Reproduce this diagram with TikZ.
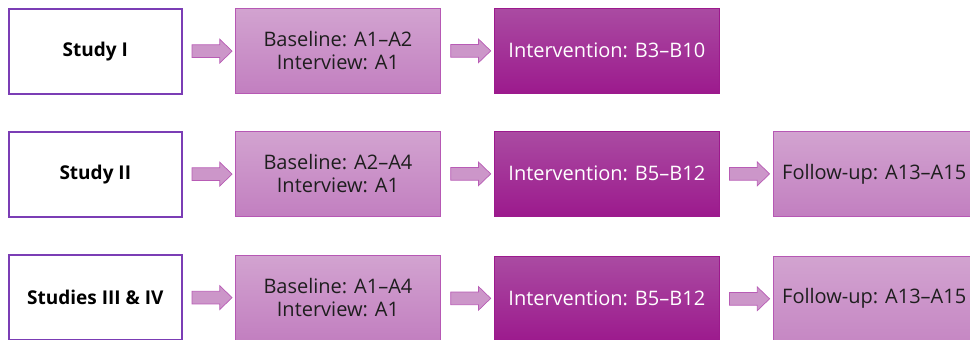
\documentclass[tikz,border=0pt]{standalone}
\usepackage{fontspec}
\setmainfont{Open Sans}
\usetikzlibrary{shapes.arrows,calc}
\definecolor{studyborder}{HTML}{7B3DB5}
\definecolor{basetop}{HTML}{D2A3D0}
\definecolor{basebot}{HTML}{C27FC0}
\definecolor{baseborder}{HTML}{B658B4}
\definecolor{intop}{HTML}{AA4BA2}
\definecolor{inbot}{HTML}{9C1A8D}
\definecolor{arrowfill}{HTML}{CC96C9}
\definecolor{arrowborder}{HTML}{B85CB5}
\definecolor{txt}{HTML}{1E1E1E}
\tikzset{
  box/.style={anchor=north west, minimum height=85pt, inner sep=0pt, align=center},
  studybox/.style={box, draw=studyborder, line width=1.6pt, fill=white, minimum width=173pt, font=\fontsize{19}{22}\selectfont\bfseries, text=black},
  basebox/.style={box, draw=baseborder, line width=0.9pt, top color=basetop, bottom color=basebot, minimum width=205pt, font=\fontsize{20}{23}\selectfont, text=txt},
  intbox/.style={box, draw=inbot, line width=0.6pt, top color=intop, bottom color=inbot, minimum width=225pt, font=\fontsize{20}{23}\selectfont, text=white},
  fubox/.style={box, draw=baseborder, line width=0.9pt, top color=basetop, bottom color=basebot, minimum width=225pt, font=\fontsize{20}{23}\selectfont, text=txt},
  futext/.style={anchor=west, font=\fontsize{20}{23}\selectfont, text=txt, inner sep=0pt},
  blockarrow/.style={single arrow, draw=arrowborder, line width=0.7pt, fill=arrowfill, minimum height=40pt, minimum width=23pt, inner sep=6pt, single arrow head extend=5.5pt, single arrow tip angle=88, single arrow head indent=0pt},
}
\begin{document}
\begin{tikzpicture}[x=1pt,y=-1pt]
\useasboundingbox (0,0) rectangle (970,340);
\begin{scope}
\clip (0,0) rectangle (970,340);
% Row 1
\node[studybox] (s1) at (8,8) {Study I};
\node[basebox] (b1) at (235,8) {Baseline: A1–A2\\Interview: A1};
\node[intbox] (i1) at (494,8) {Intervention: B3–B10};
% Row 2
\node[studybox] (s2) at (8,131) {Study II};
\node[basebox] (b2) at (235,131) {Baseline: A2–A4\\Interview: A1};
\node[intbox] (i2) at (494,131) {Intervention: B5–B12};
\node[fubox] (f2) at (773,131) {};
\node[futext] (f2t) at ($(f2.west)+(9,0)$) {Follow-up: A13–A15};
% Row 3
\node[studybox] (s3) at (8,254) {Studies III \& IV};
\node[basebox] (b3) at (235,255) {Baseline: A1–A4\\Interview: A1};
\node[intbox] (i3) at (494,256) {Intervention: B5–B12};
\node[fubox, minimum height=110pt] (f3) at (773,256) {};
\node[futext] (f3t) at ($(f3.west |- i3.east)+(9,0)$) {Follow-up: A13–A15};
% arrows
\foreach \a/\b in {s1/b1,b1/i1,s2/b2,b2/i2,i2/f2,s3/b3,b3/i3}{
  \node[blockarrow] at ($(\a.east)!0.5!(\b.west)$) {};
}
\node[blockarrow] at ($(i3.east)!0.5!(f3.west |- i3.east)$) {};
\end{scope}
\end{tikzpicture}
\end{document}
